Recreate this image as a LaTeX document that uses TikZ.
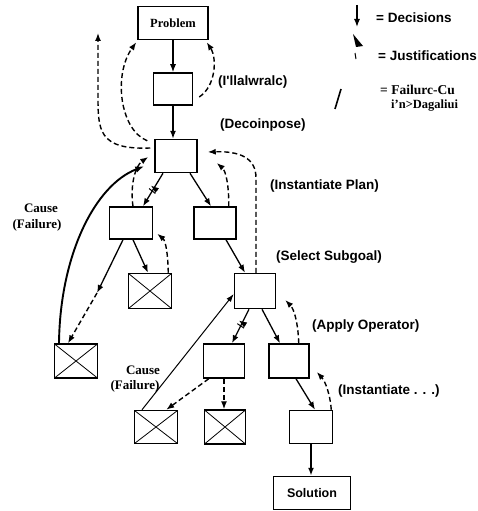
\documentclass[tikz,border=0pt]{standalone}
\usepackage{fontspec}
\setmainfont{Liberation Serif}
\newfontfamily\sansf{Liberation Sans}
\usetikzlibrary{arrows.meta,calc}
\tikzset{
  box/.style={draw, line width=1.5pt, inner sep=0pt, minimum width=41pt, minimum height=33pt},
  xbox/.style={box, path picture={\draw[line width=0.8pt]
      (path picture bounding box.south west) -- (path picture bounding box.north east)
      (path picture bounding box.north west) -- (path picture bounding box.south east);}},
  dec/.style={line width=1.3pt, -{Latex[length=8pt,width=6pt]}},
  jus/.style={line width=1.4pt, dash pattern=on 5pt off 3pt, -{Latex[length=8pt,width=6pt]}},
  cause/.style={line width=1.9pt, -{Latex[length=9pt,width=6.5pt]}},
  thincause/.style={line width=1pt, -{Latex[length=8pt,width=5.5pt]}},
  lbl/.style={font=\sansf\bfseries\fontsize{13.5}{15}\selectfont, inner sep=0pt},
  rlbl/.style={font=\bfseries\fontsize{13}{15}\selectfont, inner sep=0pt},
  hatch/.pic={\draw[line width=1pt] (-2,4) -- (-1,-4) (1.5,4) -- (2.5,-4);}
}
\begin{document}
\begin{tikzpicture}[x=1pt,y=-1pt]
\useasboundingbox (0,0) rectangle (477,511);

% search tree nodes
\node[box, minimum width=70pt, font=\bfseries\fontsize{12.5}{14}\selectfont] (P) at (173,23) {Problem};
\node[box, minimum width=39pt, minimum height=32pt] (A) at (173,89) {};
\node[box, minimum width=42pt] (B) at (176,156) {};
\node[box, minimum width=43pt, minimum height=32pt] (C) at (131,223) {};
\node[box, minimum width=42pt, minimum height=32pt] (D) at (215,223) {};
\node[xbox, minimum width=43pt, minimum height=35pt] (E) at (150,291) {};
\node[box, minimum width=41pt, minimum height=35pt] (F) at (255,291) {};
\node[xbox, minimum width=43pt, minimum height=34pt] (G) at (76,361) {};
\node[box, minimum width=41pt, minimum height=34pt] (H) at (224,361) {};
\node[box, minimum width=40pt, minimum height=34pt] (I) at (289,361) {};
\node[xbox, minimum width=43pt, minimum height=33pt] (J) at (156,427) {};
\node[xbox, minimum width=41pt, minimum height=34pt] (K) at (225,427) {};
\node[box, minimum width=43pt, minimum height=33pt] (L) at (311,427) {};
\node[box, minimum width=77pt, font=\sansf\bfseries\fontsize{12.5}{14}\selectfont] (S) at (312,493) {Solution};

% decisions
\draw[dec] (P) -- (A);
\draw[dec] (A.south) -- (B.north -| A.south);
\draw[dec] ([xshift=-13pt]B.south) -- ([xshift=12pt]C.north) pic[pos=0.5, sloped]{hatch};
\draw[dec] ([xshift=14pt]B.south) -- ([xshift=-4pt]D.north);
\draw[dec] ([xshift=2pt]C.south) -- ([xshift=-2pt]E.north);
\draw[dec] ([xshift=11pt]D.south) -- ([xshift=-10pt]F.north);
\draw[dec] ([xshift=-6pt]F.south) -- ([xshift=8pt]H.north) pic[pos=0.45, sloped]{hatch};
\draw[dec] ([xshift=7pt]F.south) -- ([xshift=-9pt]I.north);
\draw[dec] ([xshift=7pt]I.south) -- ([xshift=4pt]L.north);
\draw[dec, line width=1.9pt] (L.south) -- (L.south |- S.north);
\coordinate (cg) at (97,293);
\draw[dec] ([xshift=-8pt]C.south) -- (cg);
\draw[jus] (cg) -- ([xshift=-8pt]G.north);

% failure causes
\draw[cause] ([xshift=-17pt]G.north) .. controls (60,255) and (95,185) .. ($(B.south west)+(-10,-7)$);
\draw[thincause] ([xshift=-14pt]J.north) -- ($(F.west)+(0,3)$);

% justifications
\coordinate (up) at (98,33);
\draw[jus] ($(A.east)+(6,8)$) .. controls (216,86) and (217,58) .. ($(P.south east)+(-2,2)$);
\draw[jus] ($(B.north west)+(-7,2)$) .. controls (120,130) and (113,75) .. ($(P.south west)+(-1,2)$);
\draw[jus] ($(B.west)+(-4,-8)$) .. controls (98,150) and (98,130) .. (98,95) -- (up);
\draw[jus] ($(C.north)+(2,0)$) .. controls (130,186) and (135,166) .. ($(B.west)+(-6,1)$);
\draw[jus] ($(E.north east)+(-4,0)$) .. controls (168,256) and (166,241) .. ($(C.south east)+(4,-6)$);
\draw[jus] ($(D.north east)+(-8,0)$) .. controls (229,186) and (226,171) .. ($(B.east)+(19,7)$);
\draw[jus] ($(F.north)+(1,0)$) -- (256,178) .. controls (256,158) and (240,151) .. ($(B.east)+(10,-4)$);
\draw[jus] ($(I.north east)+(-11,0)$) .. controls (298,322) and (294,309) .. ($(F.east)+(9,9)$);
\draw[jus] ($(L.north east)+(-2,0)$) .. controls (330,393) and (325,381) .. ($(I.east)+(7,11)$);
\draw[jus] ($(H.south west)+(6,0)$) -- ($(J.north east)+(-12,0)$);
\draw[jus] (H.south) -- (H.south |- K.north);

% step labels
\node[lbl, anchor=west] (l1) at (218,82) {(I'llalwralc)};
\node[lbl, anchor=west] (l2) at (220,125) {(Decoinpose)};
\node[lbl, anchor=west] (l3) at (270,186) {(Instantiate Plan)};
\node[lbl, anchor=west] (l4) at (276,257) {(Select Subgoal)};
\node[lbl, anchor=west] (l5) at (312,326) {(Apply Operator)};
\node[lbl, anchor=west] (l6) at (338,391) {(Instantiate . . .)};
\node[rlbl] (c1a) at (41,208) {Cause};
\node[rlbl] (c1b) at (37,225) {(Failure)};
\node[rlbl] (c2a) at (143,370) {Cause};
\node[rlbl] (c2b) at (135,386) {(Failure)};

% legend
\draw[dec] (357,5) -- (357,27);
\node[lbl, anchor=west] (k1) at (376,18) {= Decisions};
\fill (353,34) -- (363,46) -- (356,47) -- cycle;
\draw[line width=1pt] (355,53) -- (356,59);
\node[lbl, anchor=east] (k2) at (477,56) {= Justifications};
\draw[line width=1.6pt] (335,109) -- (341,89);
\node[rlbl, anchor=west, font=\bfseries\fontsize{13.5}{15}\selectfont] (k3) at (380,90) {=\ Failurc-Cu};
\node[rlbl, anchor=west, font=\bfseries\fontsize{12.5}{14}\selectfont] (k4) at (391,106) {i\char"0027n>Dagaliui};
\end{tikzpicture}
\end{document}
